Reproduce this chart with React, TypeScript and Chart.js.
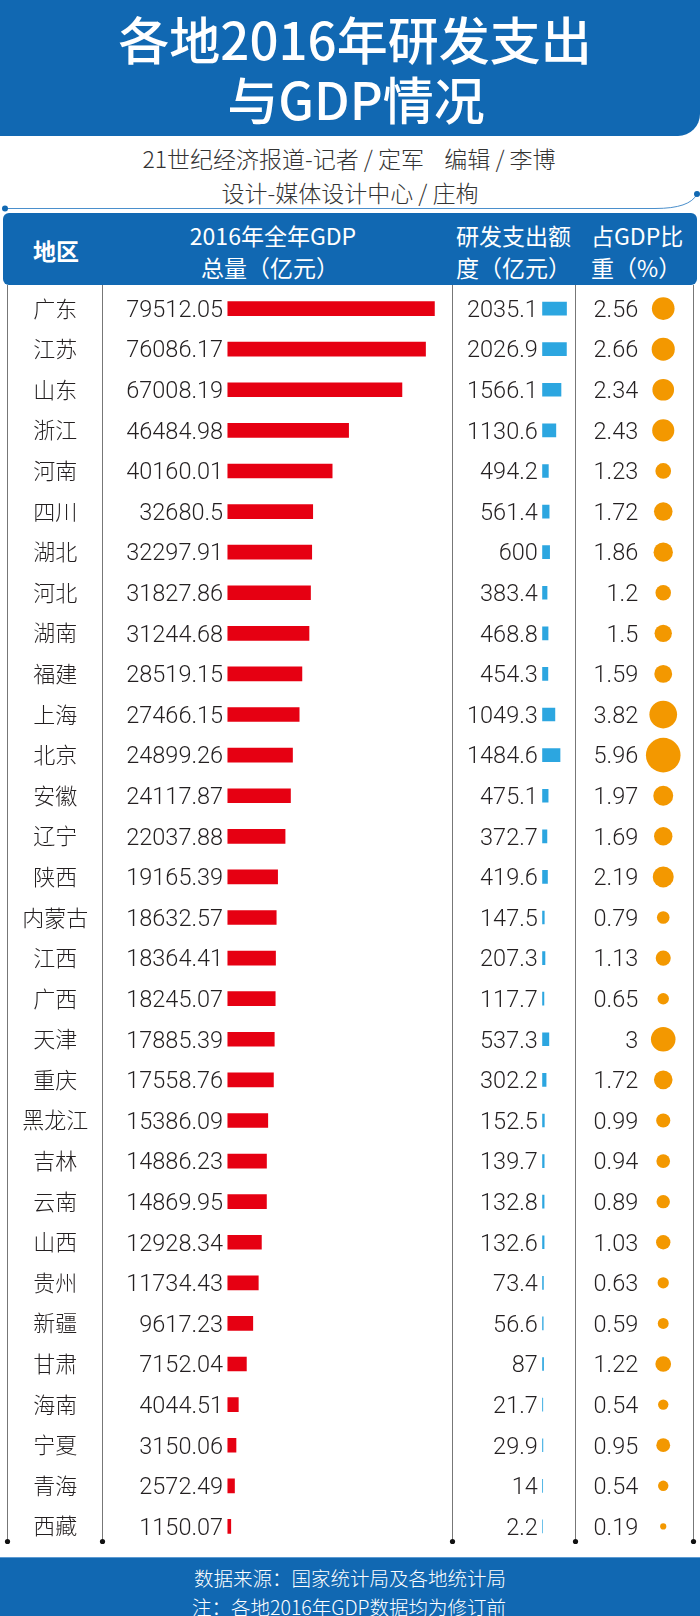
import React, { useEffect, useRef } from 'react';
import { Chart, registerables } from 'chart.js';

Chart.register(...registerables);

// ---------------- data ----------------
const provinces = [
  '广东', '江苏', '山东', '浙江', '河南', '四川', '湖北', '河北', '湖南', '福建',
  '上海', '北京', '安徽', '辽宁', '陕西', '内蒙古', '江西', '广西', '天津', '重庆',
  '黑龙江', '吉林', '云南', '山西', '贵州', '新疆', '甘肃', '海南', '宁夏', '青海', '西藏',
];
const gdp = [
  79512.05, 76086.17, 67008.19, 46484.98, 40160.01, 32680.5, 32297.91, 31827.86, 31244.68, 28519.15,
  27466.15, 24899.26, 24117.87, 22037.88, 19165.39, 18632.57, 18364.41, 18245.07, 17885.39, 17558.76,
  15386.09, 14886.23, 14869.95, 12928.34, 11734.43, 9617.23, 7152.04, 4044.51, 3150.06, 2572.49, 1150.07,
];
const rdSpend = [
  2035.1, 2026.9, 1566.1, 1130.6, 494.2, 561.4, 600, 383.4, 468.8, 454.3,
  1049.3, 1484.6, 475.1, 372.7, 419.6, 147.5, 207.3, 117.7, 537.3, 302.2,
  152.5, 139.7, 132.8, 132.6, 73.4, 56.6, 87, 21.7, 29.9, 14, 2.2,
];
const rdShare = [
  2.56, 2.66, 2.34, 2.43, 1.23, 1.72, 1.86, 1.2, 1.5, 1.59,
  3.82, 5.96, 1.97, 1.69, 2.19, 0.79, 1.13, 0.65, 3, 1.72,
  0.99, 0.94, 0.89, 1.03, 0.63, 0.59, 1.22, 0.54, 0.95, 0.54, 0.19,
];

// ---------------- layout ----------------
const W = 700;
const AREA_TOP = 288;
const AREA_H = 1259;
const GDP_ZERO = 227.7;
const GDP_MAX_LEN = 206.8;
const RD_ZERO = 542.7;
const RD_MAX_LEN = 24;
const SHARE_X = 663.5;
const SHARE_MAX_R = 17.3;
// bubble controller reserves its largest radius on every side of the chart area
const PAD = SHARE_MAX_R;

const BLUE = '#1168b2';
const RED = '#e60012';
const LIGHTBLUE = '#2ca6e0';
const ORANGE = '#f39800';
const TEXT = '#231f20';
const CJK = '"Noto Sans CJK SC", "Noto Sans", sans-serif';
const NUM = 'Roboto, "Liberation Sans", sans-serif';

const gdpK = GDP_MAX_LEN / Math.max(...gdp);
const rdK = RD_MAX_LEN / Math.max(...rdSpend);
const shareMax = Math.max(...rdShare);

const textPlugin = {
  id: 'rowText',
  afterDatasetsDraw(chart: any) {
    const { ctx, scales, chartArea } = chart;
    const y = scales.y;
    const xg = scales.xg;
    const xr = scales.xr;
    const xp = scales.xp;
    ctx.save();
    ctx.fillStyle = TEXT;
    provinces.forEach((name, i) => {
      const cy = y.getPixelForValue(i);
      ctx.textBaseline = 'alphabetic';
      ctx.font = `300 22px ${CJK}`;
      ctx.textAlign = 'center';
      ctx.fillText(name, chartArea.left + 55, cy + 8);
      ctx.font = `300 23.5px ${NUM}`;
      ctx.textAlign = 'right';
      ctx.fillText(String(gdp[i]), xg.getPixelForValue(0) - 4.7, cy + 8.3);
      ctx.fillText(String(rdSpend[i]), xr.getPixelForValue(0) - 4.7, cy + 8.3);
      ctx.fillText(String(rdShare[i]), xp.getPixelForValue(0) - 25, cy + 8.3);
    });
    ctx.restore();
  },
};

function TableChart() {
  const ref = useRef<HTMLCanvasElement | null>(null);
  useEffect(() => {
    if (!ref.current) return;
    const chart = new Chart(ref.current, {
      type: 'bar',
      data: {
        labels: provinces,
        datasets: [
          {
            label: 'GDP',
            data: gdp,
            xAxisID: 'xg',
            backgroundColor: RED,
            barThickness: 14,
            grouped: false,
            borderWidth: 0,
          } as any,
          {
            label: '研发支出',
            data: rdSpend,
            xAxisID: 'xr',
            backgroundColor: LIGHTBLUE,
            barThickness: 13,
            grouped: false,
            borderWidth: 0,
          } as any,
          {
            type: 'bubble',
            label: '占GDP比重',
            data: rdShare.map((v, i) => ({ x: 0, y: i, r: SHARE_MAX_R * Math.sqrt(v / shareMax) })),
            xAxisID: 'xp',
            backgroundColor: ORANGE,
            borderWidth: 0,
            hoverRadius: 0,
            clip: false,
          } as any,
        ],
      },
      options: {
        indexAxis: 'y',
        animation: false,
        responsive: false,
        maintainAspectRatio: false,
        events: [],
        layout: { padding: 0 },
        plugins: {
          legend: { display: false },
          tooltip: { enabled: false },
          title: { display: false },
        },
        scales: {
          y: { type: 'category', display: false, offset: true, grid: { display: false } },
          xg: {
            type: 'linear', axis: 'x', display: false, bounds: 'data', grace: 0,
            min: -GDP_ZERO / gdpK, max: (W - GDP_ZERO) / gdpK,
          },
          xr: {
            type: 'linear', axis: 'x', display: false, bounds: 'data', grace: 0,
            min: -RD_ZERO / rdK, max: (W - RD_ZERO) / rdK,
          },
          xp: {
            type: 'linear', axis: 'x', display: false, bounds: 'data', grace: 0,
            min: -SHARE_X, max: W - SHARE_X,
          },
        } as any,
      } as any,
      plugins: [textPlugin],
    });
    return () => chart.destroy();
  }, []);
  const cw = W + 2 * PAD;
  const ch = AREA_H + 2 * PAD;
  return (
    <canvas
      ref={ref}
      width={cw}
      height={ch}
      style={{ position: 'absolute', left: -PAD, top: AREA_TOP - PAD, width: cw, height: ch }}
    />
  );
}

const abs = (o: React.CSSProperties): React.CSSProperties => ({ position: 'absolute', ...o });

function Line({ cy, text, size, color, weight, left, center }: any) {
  const h = size * 1.6;
  if (center !== undefined) {
    return (
      <div style={abs({ left: center - 300, width: 600, top: cy - h / 2, height: h, lineHeight: `${h}px`, textAlign: 'center', fontSize: size, color, fontWeight: weight, fontFamily: CJK, whiteSpace: 'pre' })}>{text}</div>
    );
  }
  return (
    <div style={abs({ left, top: cy - h / 2, height: h, lineHeight: `${h}px`, fontSize: size, color, fontWeight: weight, fontFamily: CJK, whiteSpace: 'pre' })}>{text}</div>
  );
}

export default function App() {
  const colX = [7.5, 102.5, 452.5, 575.5, 693.5];
  return (
    <div style={abs({ left: 0, top: 0, width: W, height: 1616, background: '#fff', overflow: 'hidden' })}>
      {/* title block */}
      <div style={abs({ left: 0, top: 0, width: W, height: 136, background: BLUE, borderBottomRightRadius: 22 })} />
      <Line cy={39} center={355} text="各地2016年研发支出" size={51} color="#fff" weight={500} />
      <Line cy={99} center={356} text="与GDP情况" size={51} color="#fff" weight={500} />
      <Line cy={158} center={349} text={'21世纪经济报道-记者 / 定军    编辑 / 李博'} size={23} color="#333" weight={300} />
      <Line cy={192} center={350} text="设计-媒体设计中心 / 庄栒" size={23} color="#333" weight={300} />
      <svg width={W} height={1616} style={abs({ left: 0, top: 0 })}>
        <path d="M5 208.5 L655 208.5 Q690 208.5 697 194" stroke="#4a8fcc" strokeWidth={1} fill="none" />
        <circle cx={5} cy={208.5} r={3} fill={BLUE} />
        <circle cx={697} cy={194} r={3} fill={BLUE} />
        {colX.map((x) => (
          <g key={x}>
            <line x1={x} x2={x} y1={285} y2={1541.5} stroke="#777" strokeWidth={1} />
            <circle cx={x} cy={1541.5} r={2.6} fill="#111" />
          </g>
        ))}
      </svg>
      {/* table header */}
      <div style={abs({ left: 3, top: 213, width: 694, height: 72, background: BLUE, borderRadius: 6 })} />
      <Line cy={250} center={56} text="地区" size={23} color="#fff" weight={700} />
      <Line cy={235} center={273} text="2016年全年GDP" size={23} color="#fff" weight={400} />
      <Line cy={267} center={270} text="总量（亿元）" size={23} color="#fff" weight={400} />
      <Line cy={235} left={456} text="研发支出额" size={23} color="#fff" weight={400} />
      <Line cy={267} left={456} text="度（亿元）" size={23} color="#fff" weight={400} />
      <Line cy={235} left={591} text="占GDP比" size={23} color="#fff" weight={400} />
      <Line cy={267} left={591} text="重（%）" size={23} color="#fff" weight={400} />
      <TableChart />
      {/* footer */}
      <div style={abs({ left: 0, top: 1557, width: W, height: 59, background: BLUE, borderTop: '1px solid #5d9bd3' })} />
      <Line cy={1578} center={350} text="数据来源：国家统计局及各地统计局" size={19.5} color="#fff" weight={300} />
      <Line cy={1607} center={349} text="注：各地2016年GDP数据均为修订前" size={19.5} color="#fff" weight={300} />
    </div>
  );
}
